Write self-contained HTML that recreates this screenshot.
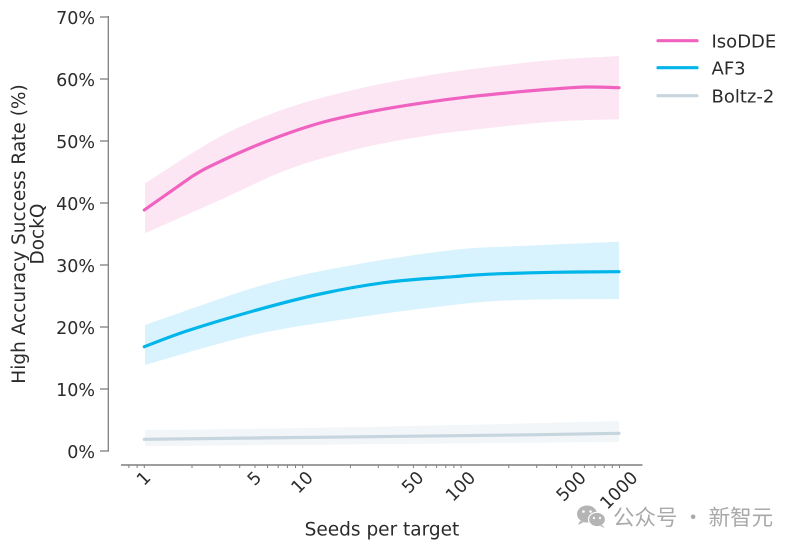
<!DOCTYPE html>
<html><head><meta charset="utf-8"><style>
html,body{margin:0;padding:0;background:#fff;}
svg{display:block;font-family:"DejaVu Sans","Liberation Sans",sans-serif;}
</style></head><body>
<svg width="796" height="549" viewBox="0 0 796 549" xmlns="http://www.w3.org/2000/svg">
<rect width="796" height="549" fill="#fff"/>
<!-- bands -->
<path fill="#fde6f4" d="M145,183.3 C157.5,175.5 196.4,149.2 220,136.7 C243.6,124.2 264.5,116.1 286.7,108.3 C308.9,100.5 330.8,95.3 353,90 C375.2,84.7 397.7,80.5 420,76.7 C442.3,72.9 464.5,70.1 486.7,67.3 C508.9,64.5 531,61.9 553,60 C575,58.1 608,56.7 619,56 L619,119.3 C608,119.7 575,120.2 553,121.7 C531,123.2 508.9,125.8 486.7,128.3 C464.5,130.8 442.3,133.1 420,136.7 C397.7,140.3 375.2,144.5 353,150 C330.8,155.6 308.9,161.7 286.7,170 C264.5,178.3 243.6,189.5 220,200 C196.4,210.6 157.5,227.8 145,233.3 Z"/>
<path fill="#d8f3fd" d="M145,325 C164.7,318.3 228.3,295 263,285 C297.7,275 321.3,270.8 353,265 C384.7,259.2 425.2,253.2 453,250 C480.8,246.8 492.3,247.4 520,246 C547.7,244.6 602.5,242.4 619,241.7 L619,299 C602.5,299.2 547.7,299 520,300 C492.3,301 480.8,302 453,305 C425.2,308 386.3,313 353,318 C319.7,323 287.7,327.2 253,335 C218.3,342.8 163,360 145,365 Z"/>
<path fill="#f2f6f8" d="M145,430 C250,429 400,427 619,421 L619,442 C400,444 250,445.5 145,446 Z"/>
<!-- lines -->
<path fill="none" stroke="#f062c0" stroke-width="3.2" stroke-linejoin="round" stroke-linecap="round" d="M144.3,210 L191.7,176.7 C204.9,168.4 210.3,166.1 223.3,160 C236.4,153.9 253.9,146.2 270,140 C286.1,133.8 303.3,127.7 320,123 C336.7,118.3 353.3,115 370,111.7 C386.7,108.4 403.3,105.8 420,103.3 C436.7,100.8 453.3,98.6 470,96.7 C486.7,94.8 506.2,93 520,91.7 C533.8,90.4 541.9,89.8 553,89 C564.1,88.2 575.7,87.2 586.7,87 C597.7,86.8 613.6,87.6 619,87.7"/>
<path fill="none" stroke="#00b5ea" stroke-width="3.2" stroke-linejoin="round" stroke-linecap="round" d="M144.3,346.7 C151.4,344.1 168.5,337 186.7,331 C204.9,325.1 231.1,317.2 253.3,311 C275.5,304.8 297.8,298.8 320,294 C342.2,289.2 364.5,285.2 386.7,282.3 C408.9,279.4 436.6,278 453.3,276.7 C470,275.4 470,275 486.7,274.3 C503.4,273.6 531.3,272.7 553.3,272.3 C575.4,271.9 608,271.8 619,271.7"/>
<path fill="none" stroke="#c6d5de" stroke-width="3.2" stroke-linecap="round" d="M144.3,439.3 C300,437.8 460,436.3 619,433.3"/>
<!-- y axis -->
<g stroke="#7f7f7f" stroke-width="1.3">
<line x1="108.3" y1="16" x2="108.3" y2="451.6"/>
<line x1="100" y1="17" x2="108.3" y2="17"/>
<line x1="100" y1="79" x2="108.3" y2="79"/>
<line x1="100" y1="141" x2="108.3" y2="141"/>
<line x1="100" y1="203" x2="108.3" y2="203"/>
<line x1="100" y1="265" x2="108.3" y2="265"/>
<line x1="100" y1="327" x2="108.3" y2="327"/>
<line x1="100" y1="389" x2="108.3" y2="389"/>
<line x1="100" y1="451" x2="108.3" y2="451"/>
</g>
<g font-size="17.5" fill="#2b2b2b" text-anchor="end">
<text x="95" y="24">70%</text>
<text x="95" y="86">60%</text>
<text x="95" y="148">50%</text>
<text x="95" y="210">40%</text>
<text x="95" y="272">30%</text>
<text x="95" y="334">20%</text>
<text x="95" y="396">10%</text>
<text x="95" y="458">0%</text>
</g>
<!-- x axis -->
<line x1="121" y1="465" x2="642.5" y2="465" stroke="#7f7f7f" stroke-width="1.5"/>
<g stroke="#7f7f7f" stroke-width="1">
<line x1="128.9" y1="465" x2="128.9" y2="468"/><line x1="137.1" y1="465" x2="137.1" y2="468"/>
<line x1="144.3" y1="465" x2="144.3" y2="468"/><line x1="192" y1="465" x2="192" y2="468"/>
<line x1="219.9" y1="465" x2="219.9" y2="468"/><line x1="239.7" y1="465" x2="239.7" y2="468"/>
<line x1="255" y1="465" x2="255" y2="468"/><line x1="267.6" y1="465" x2="267.6" y2="468"/>
<line x1="278.2" y1="465" x2="278.2" y2="468"/><line x1="287.4" y1="465" x2="287.4" y2="468"/>
<line x1="295.5" y1="465" x2="295.5" y2="468"/><line x1="302.7" y1="465" x2="302.7" y2="468"/>
<line x1="350.4" y1="465" x2="350.4" y2="468"/><line x1="378.3" y1="465" x2="378.3" y2="468"/>
<line x1="398.1" y1="465" x2="398.1" y2="468"/><line x1="413.4" y1="465" x2="413.4" y2="468"/>
<line x1="426" y1="465" x2="426" y2="468"/><line x1="436.6" y1="465" x2="436.6" y2="468"/>
<line x1="445.8" y1="465" x2="445.8" y2="468"/><line x1="453.9" y1="465" x2="453.9" y2="468"/>
<line x1="461.1" y1="465" x2="461.1" y2="468"/><line x1="508.8" y1="465" x2="508.8" y2="468"/>
<line x1="536.7" y1="465" x2="536.7" y2="468"/><line x1="556.5" y1="465" x2="556.5" y2="468"/>
<line x1="571.8" y1="465" x2="571.8" y2="468"/><line x1="584.4" y1="465" x2="584.4" y2="468"/>
<line x1="595" y1="465" x2="595" y2="468"/><line x1="604.2" y1="465" x2="604.2" y2="468"/>
<line x1="612.3" y1="465" x2="612.3" y2="468"/><line x1="619.5" y1="465" x2="619.5" y2="468"/>
</g>
<g font-size="17.5" fill="#2b2b2b" text-anchor="middle" dominant-baseline="central">
<text x="144.3" y="479" transform="rotate(-45 144.3 479)">1</text>
<text x="255" y="479" transform="rotate(-45 255 479)">5</text>
<text x="302.7" y="483" transform="rotate(-45 302.7 483)">10</text>
<text x="413.4" y="483" transform="rotate(-45 413.4 483)">50</text>
<text x="461.1" y="487" transform="rotate(-45 461.1 487)">100</text>
<text x="571.8" y="487" transform="rotate(-45 571.8 487)">500</text>
<text x="619.5" y="491" transform="rotate(-45 619.5 491)">1000</text>
</g>
<text x="382" y="535.7" font-size="18.5" fill="#2b2b2b" text-anchor="middle">Seeds per target</text>
<g font-size="18.5" fill="#2b2b2b" text-anchor="middle">
<text x="25.2" y="234" transform="rotate(-90 25.2 234)">High Accuracy Success Rate (%)</text>
<text x="43.5" y="234" transform="rotate(-90 43.5 234)">DockQ</text>
</g>
<!-- legend -->
<g stroke-width="3.2" stroke-linecap="round">
<line x1="658" y1="40.7" x2="697" y2="40.7" stroke="#f062c0"/>
<line x1="658" y1="67.7" x2="697" y2="67.7" stroke="#00b5ea"/>
<line x1="658" y1="95.7" x2="697" y2="95.7" stroke="#c6d5de"/>
</g>
<g font-size="18" fill="#2b2b2b">
<text x="711.5" y="47.3">IsoDDE</text>
<text x="711.5" y="74.3">AF3</text>
<text x="711.5" y="102.3">Boltz-2</text>
</g>
<!-- watermark -->
<g fill="#b4b4b4">
<ellipse cx="587" cy="514" rx="10" ry="8.5"/>
<path d="M580,521 L578,525 L584,522 Z"/>
<ellipse cx="597" cy="519.5" rx="8.5" ry="7.2" stroke="#fff" stroke-width="1.2"/>
<path d="M602,525 L605,528 L600,526 Z"/>
</g>
<g fill="#fff">
<circle cx="583.5" cy="511.5" r="1.3"/><circle cx="590.5" cy="511.5" r="1.3"/>
<circle cx="594" cy="518" r="1.1"/><circle cx="600" cy="518" r="1.1"/>
</g>
<text x="613" y="525" font-size="21.5" fill="#a9a9a9" font-family="'Noto Sans CJK SC','WenQuanYi Zen Hei',sans-serif">公众号 · 新智元</text>
</svg>
</body></html>
